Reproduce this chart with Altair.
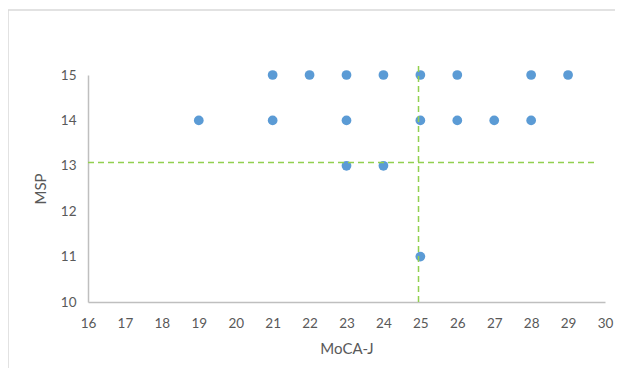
import altair as alt
import pandas as pd

# Data
moca = [21, 22, 23, 24, 25, 26, 28, 29,
        19, 21, 23, 25, 26, 27, 28,
        23, 24,
        25]
msp = [15, 15, 15, 15, 15, 15, 15, 15,
       14, 14, 14, 14, 14, 14, 14,
       13, 13,
       11]

x_ticks = list(range(16, 31))
y_ticks = list(range(10, 16))

# reference (cut-off) lines
h_line = {"x": 16, "x2": 29.75, "y": 13.07}
v_line = {"x": 24.95, "y": 10, "y2": 15.27}

df = pd.DataFrame({"MoCA-J": moca, "MSP": msp})
h_df = pd.DataFrame([h_line])
v_df = pd.DataFrame([v_line])

label_color = "#595959"
green = "#92D050"

x_scale = alt.Scale(domain=[16, 30], nice=False, zero=False)
y_scale = alt.Scale(domain=[10, 15], nice=False, zero=False)
x_axis = alt.Axis(values=x_ticks, title="MoCA-J", grid=False, ticks=False,
                  domainColor="#BFBFBF", domainWidth=1.5,
                  labelOverlap=False, labelFlush=False, labelBound=False,
                  labelPadding=14, titlePadding=12)
y_axis = alt.Axis(values=y_ticks, title="MSP", grid=False, ticks=False,
                  domainColor="#BFBFBF", domainWidth=1.5,
                  labelOverlap=False, labelFlush=False, labelBound=False,
                  labelPadding=12, titlePadding=12)

frame = alt.Chart(pd.DataFrame({"a": [0]})).mark_rect(
    fill=None, stroke="#D9D9D9", strokeWidth=1.5, clip=False
).encode(
    x=alt.value(-80), x2=alt.value(560),
    y=alt.value(-65), y2=alt.value(320)
)

points = alt.Chart(df).mark_circle(size=95, opacity=1, color="#5B9BD5").encode(
    x=alt.X("MoCA-J:Q", scale=x_scale, axis=x_axis),
    y=alt.Y("MSP:Q", scale=y_scale, axis=y_axis)
)

hrule = alt.Chart(h_df).mark_rule(color=green, strokeDash=[6, 4], strokeWidth=1.5, clip=False).encode(
    x=alt.X("x:Q", scale=x_scale, axis=x_axis), x2="x2:Q",
    y=alt.Y("y:Q", scale=y_scale, axis=y_axis)
)
vrule = alt.Chart(v_df).mark_rule(color=green, strokeDash=[6, 4], strokeWidth=1.5, clip=False).encode(
    x=alt.X("x:Q", scale=x_scale, axis=x_axis),
    y=alt.Y("y:Q", scale=y_scale, axis=y_axis), y2="y2:Q"
)

chart = alt.layer(frame, points, hrule, vrule).properties(
    width=517, height=227,
    autosize=alt.AutoSizeParams(type="none"),
    padding={"left": 80, "top": 67, "right": 10, "bottom": 66},
).configure_view(stroke=None).configure_axis(
    labelFont="Lato", labelFontSize=13.5, labelColor=label_color,
    titleFont="Lato", titleFontSize=15, titleColor=label_color, titleFontWeight="normal",
    labelOverlap=False
)

chart.save("out.html", embed_options={"renderer": "svg", "actions": False})
